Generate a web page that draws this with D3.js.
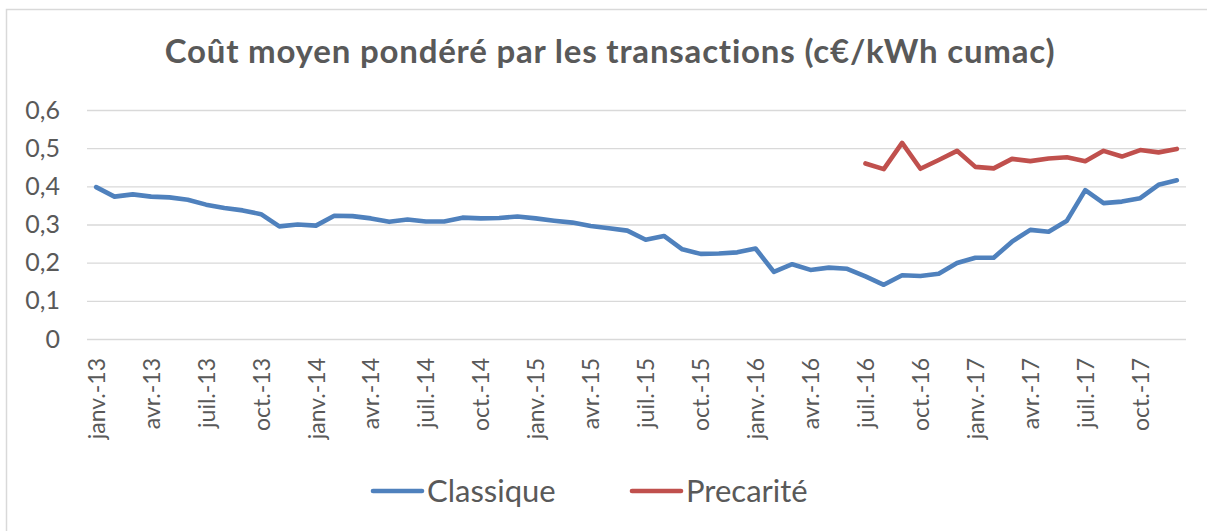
<!DOCTYPE html>
<html lang="fr">
<head>
<meta charset="utf-8">
<script src="https://cdn.jsdelivr.net/npm/d3@7"></script>
<style>
  html, body { margin: 0; padding: 0; background: #fff; }
  svg { display: block; }
  text { font-family: Lato, "Open Sans", sans-serif; fill: #595959; }
</style>
</head>
<body>
<svg id="chart" width="1207" height="531"></svg>
<script>
// Mois (axe des catégories)
const categories = [
  "janv.-13","févr.-13","mars-13","avr.-13","mai-13","juin-13","juil.-13","août-13","sept.-13","oct.-13","nov.-13","déc.-13",
  "janv.-14","févr.-14","mars-14","avr.-14","mai-14","juin-14","juil.-14","août-14","sept.-14","oct.-14","nov.-14","déc.-14",
  "janv.-15","févr.-15","mars-15","avr.-15","mai-15","juin-15","juil.-15","août-15","sept.-15","oct.-15","nov.-15","déc.-15",
  "janv.-16","févr.-16","mars-16","avr.-16","mai-16","juin-16","juil.-16","août-16","sept.-16","oct.-16","nov.-16","déc.-16",
  "janv.-17","févr.-17","mars-17","avr.-17","mai-17","juin-17","juil.-17","août-17","sept.-17","oct.-17","nov.-17","déc.-17"
];

// Coût moyen pondéré, c€/kWh cumac
const classique = [
  0.398,0.373,0.379,0.373,0.371,0.365,0.352,0.343,0.337,0.327,0.295,0.300,
  0.297,0.323,0.322,0.316,0.307,0.313,0.308,0.308,0.318,0.316,0.317,0.321,
  0.316,0.310,0.305,0.296,0.290,0.284,0.260,0.270,0.235,0.223,0.224,0.227,
  0.237,0.176,0.196,0.181,0.187,0.184,0.164,0.142,0.167,0.165,0.171,0.199,
  0.213,0.213,0.255,0.286,0.281,0.310,0.390,0.356,0.360,0.369,0.404,0.416
];

// Précarité : série démarrant en juil.-16
const precariteStart = "juil.-16";
const precarite = [
  0.460,0.445,0.514,0.446,0.469,0.493,0.451,0.447,0.472,0.466,0.473,0.476,
  0.466,0.493,0.478,0.495,0.489,0.498
];

const yTicks = [0, 0.1, 0.2, 0.3, 0.4, 0.5, 0.6];
const tickLabels = categories.filter((d, i) => i % 3 === 0);

const seriesNames = ["Classique", "Precarité"];
const colors = ["#4F81BD", "#C0504D"];

const svg = d3.select("#chart");

// Cadre de la zone graphique
svg.append("rect")
  .attr("x", 6.5).attr("y", 9.5)
  .attr("width", 1230).attr("height", 560)
  .attr("fill", "none").attr("stroke", "#d9d9d9").attr("stroke-width", 1.5);

const x = d3.scalePoint().domain(categories).range([87, 1186]).padding(0.5);
const y = d3.scaleLinear().domain([0, 0.6]).range([339, 110]);

// Titre
svg.append("text")
  .attr("x", 610).attr("y", 63)
  .attr("text-anchor", "middle")
  .style("font-size", "33px").style("font-weight", "700")
  .style("letter-spacing", "0.8px")
  .text("Coût moyen pondéré par les transactions (c€/kWh cumac)");

// Axe Y et quadrillage
const yAxis = d3.axisLeft(y)
  .tickValues(yTicks)
  .tickSize(-(1186 - 87))
  .tickPadding(27)
  .tickFormat(d => d === 0 ? "0" : d3.format(".1f")(d).replace(".", ","));

const gy = svg.append("g").attr("transform", "translate(87,0)").call(yAxis);
gy.select(".domain").remove();
gy.selectAll(".tick line").attr("stroke", "#d9d9d9").attr("stroke-width", 1.4);
gy.selectAll(".tick text").style("font-size", "25px").attr("fill", "#595959");

// Axe X (une étiquette par trimestre)
const xAxis = d3.axisBottom(x).tickValues(tickLabels).tickSize(0).tickPadding(0);
const gx = svg.append("g").attr("transform", "translate(0,339)").call(xAxis);
gx.select(".domain").remove();
gx.selectAll(".tick text")
  .style("font-size", "23px")
  .attr("fill", "#595959")
  .attr("transform", "rotate(-90)")
  .attr("text-anchor", "end")
  .attr("x", -19)
  .attr("y", 0)
  .attr("dy", "0.35em");

// Courbes
const line = d3.line()
  .x(d => x(d.cat))
  .y(d => y(d.v));

const startIdx = categories.indexOf(precariteStart);
const dataSets = [
  classique.map((v, i) => ({ cat: categories[i], v })),
  precarite.map((v, i) => ({ cat: categories[startIdx + i], v }))
];

dataSets.forEach((data, k) => {
  svg.append("path")
    .datum(data)
    .attr("d", line)
    .attr("fill", "none")
    .attr("stroke", colors[k])
    .attr("stroke-width", 4.6)
    .attr("stroke-linejoin", "round")
    .attr("stroke-linecap", "round");
});

// Légende
const legendPos = [373, 632];
seriesNames.forEach((name, k) => {
  const g = svg.append("g").attr("transform", `translate(${legendPos[k]},491)`);
  g.append("line")
    .attr("x1", 0).attr("x2", 49)
    .attr("stroke", colors[k]).attr("stroke-width", 4.6)
    .attr("stroke-linecap", "round");
  g.append("text")
    .attr("x", 54).attr("y", 0).attr("dy", "0.36em")
    .style("font-size", "31px")
    .text(name);
});
</script>
</body>
</html>
